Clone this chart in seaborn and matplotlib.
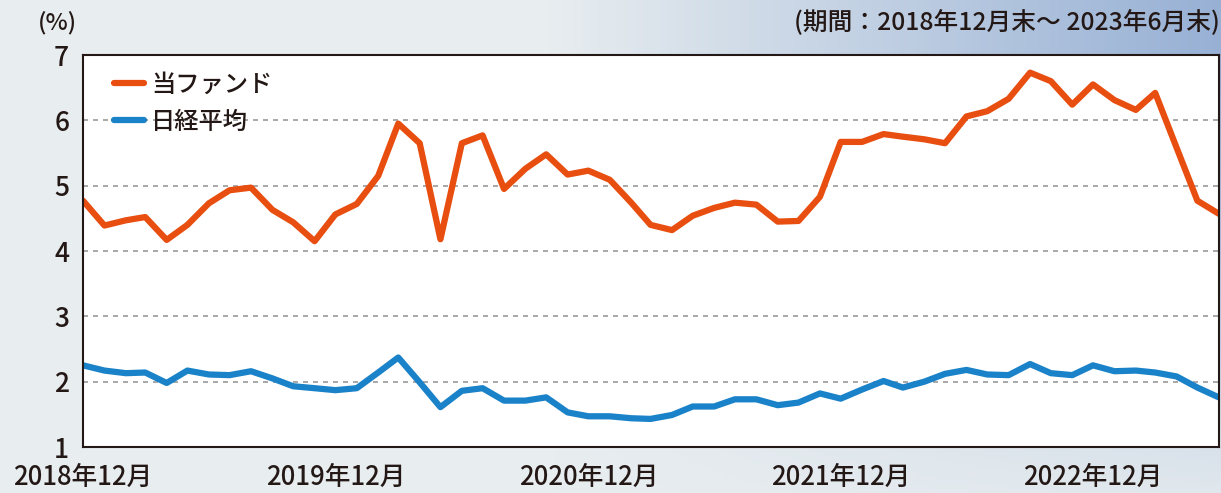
import numpy as np
import pandas as pd
import matplotlib
matplotlib.use("Agg")
import matplotlib.pyplot as plt
import seaborn as sns

months = pd.date_range("2018-12-01", "2023-06-01", freq="MS")

fund = [4.77, 4.39, 4.47, 4.52, 4.17, 4.40, 4.73, 4.93, 4.97, 4.63,
        4.44, 4.15, 4.56, 4.72, 5.15, 5.95, 5.65, 4.18, 5.65, 5.77,
        4.95, 5.26, 5.48, 5.17, 5.23, 5.09, 4.74, 4.40, 4.32, 4.54,
        4.66, 4.74, 4.71, 4.45, 4.46, 4.83, 5.67, 5.67, 5.79, 5.75,
        5.71, 5.65, 6.06, 6.14, 6.33, 6.73, 6.60, 6.24, 6.55, 6.31,
        6.16, 6.42, 5.58, 4.77, 4.57]
nikkei = [2.25, 2.17, 2.13, 2.14, 1.98, 2.17, 2.11, 2.10, 2.16, 2.05,
          1.93, 1.90, 1.87, 1.90, 2.14, 2.37, 1.99, 1.61, 1.86, 1.90,
          1.71, 1.71, 1.76, 1.53, 1.47, 1.47, 1.44, 1.43, 1.49, 1.62,
          1.62, 1.73, 1.73, 1.64, 1.68, 1.82, 1.74, 1.88, 2.01, 1.91,
          2.00, 2.12, 2.18, 2.11, 2.10, 2.27, 2.13, 2.10, 2.25, 2.16,
          2.17, 2.14, 2.08, 1.91, 1.76]
series_names = ["当ファンド", "日経平均"]
tick_months = ["2018-12-01", "2019-12-01", "2020-12-01", "2021-12-01", "2022-12-01"]
tick_labels = ["2018年12月", "2019年12月", "2020年12月", "2021年12月", "2022年12月"]

df = pd.DataFrame({"month": list(months) * 2,
                   "value": fund + nikkei,
                   "series": [series_names[0]] * len(fund) + [series_names[1]] * len(nikkei)})

sns.set_style("white")
plt.rcParams["font.family"] = ["Noto Sans CJK JP", "DejaVu Sans"]
plt.rcParams["font.weight"] = 500
ink = "#231815"

fig = plt.figure(figsize=(12.21, 4.93), dpi=100)
# soft photo-like backdrop
bg = fig.add_axes([0, 0, 1, 1], zorder=-5)
gx = np.linspace(0, 1, 300)
gy = np.linspace(0, 1, 120)
X, Y = np.meshgrid(gx, gy)
blue_amt = np.clip((X - 0.45) * 1.6, 0, 1) * np.clip(1.2 - Y * 1.1, 0, 1)
base = np.array([0.91, 0.93, 0.94])
blue = np.array([0.55, 0.66, 0.82])
img = base * (1 - blue_amt[..., None]) + blue * blue_amt[..., None]
bg.imshow(img, extent=[0, 1, 0, 1], aspect="auto", origin="upper")
bg.axis("off")

ax = fig.add_axes([0.068, 0.0933, 0.9302, 0.7951])
ax.set_facecolor("white")
sns.lineplot(data=df, x="month", y="value", hue="series", ax=ax,
             palette=["#e84e0f", "#1a82c8"], linewidth=4.5, legend=True)

ax.set_ylim(1, 7)
ax.set_xlim(months[0], months[-1])
ax.set_yticks(range(1, 8))
for v in range(2, 7):
    ax.axhline(v, color="#999999", linestyle=(0, (3, 3)), linewidth=1.2, zorder=0)
ax.set_xticks(pd.to_datetime(tick_months))
ax.set_xticklabels(tick_labels)
ax.tick_params(axis="x", direction="in", length=8, width=1.3, pad=12,
               labelsize=18.5, colors=ink)
ax.tick_params(axis="y", direction="in", length=5, width=1.2, pad=10,
               labelsize=19, colors=ink)
for s in ax.spines.values():
    s.set_color(ink)
    s.set_linewidth(1.5)
ax.set_xlabel("")
ax.set_ylabel("")

leg = ax.legend(loc="upper left", frameon=False, fontsize=17.5, handlelength=1.25,
                handletextpad=0.3, borderaxespad=0.2, labelspacing=0.45,
                bbox_to_anchor=(0.014, 0.995))
for t in leg.get_texts():
    t.set_color(ink)

fig.text(0.031, 0.94, "(%)", fontsize=17, color=ink)
fig.text(0.999, 0.94, "(期間：2018年12月末～ 2023年6月末)", fontsize=17.8,
         color=ink, ha="right")

fig.savefig("out.png", dpi=100)
